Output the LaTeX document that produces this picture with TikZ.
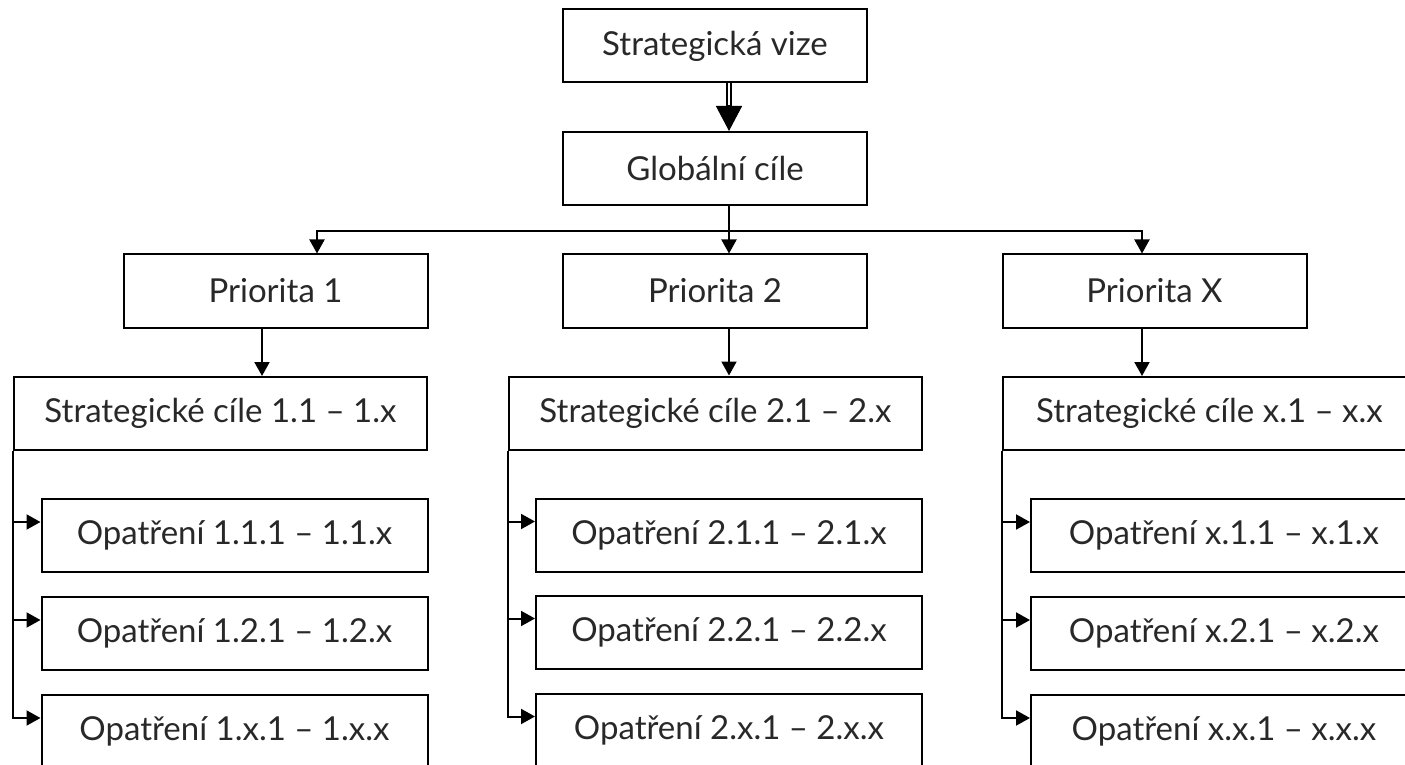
\documentclass[tikz,border=0pt]{standalone}
\usepackage{fontspec}
\setmainfont{Lato}
\usetikzlibrary{arrows.meta,calc}
\definecolor{txt}{RGB}{40,40,40}
\begin{document}
\begin{tikzpicture}[x=0.5pt,y=-0.5pt,
  box/.style={draw, line width=1pt, inner sep=0pt, text=txt,
    font=\fontsize{16.5}{19}\selectfont, minimum height=36.5pt},
  wbox/.style={box, minimum width=152pt},
  sbox/.style={box, minimum width=206.5pt},
  obox/.style={box, minimum width=193pt},
  conn/.style={line width=1pt, -{Triangle[length=7pt,width=7.5pt]}},
  plain/.style={line width=1pt}]
\useasboundingbox (0,0) rectangle (1405,765);
\clip (0,0) rectangle (1405,765);
% x positions of connectors
\coordinate (xa) at (729,0);
\coordinate (x317) at (317,0);
\coordinate (x262) at (262,0);
\coordinate (x1142) at (1142,0);
\coordinate (hb) at (729,231);
% nodes
\node[wbox] (vize) at (715,46) {Strategická vize};
\node[wbox] (glob) at (715,168.5) {Globální cíle};
\node[wbox] (p1) at (275.5,291) {Priorita 1};
\node[wbox] (p2) at (715,291) {Priorita 2};
\node[wbox] (pX) at (1154.5,291) {Priorita X};
\node[sbox] (s1) at (220.5,413.5) {Strategické cíle 1.1 – 1.x};
\node[sbox] (s2) at (715.5,413) {Strategické cíle 2.1 – 2.x};
\node[sbox] (sX) at (1209.5,413.5) {Strategické cíle x.1 – x.x};
\node[obox] (o11) at (234.5,535.5) {Opatření 1.1.1 – 1.1.x};
\node[obox] (o12) at (234.5,633.5) {Opatření 1.2.1 – 1.2.x};
\node[obox] (o1x) at (234.5,731.5) {Opatření 1.x.1 – 1.x.x};
\node[obox] (o21) at (729,535) {Opatření 2.1.1 – 2.1.x};
\node[obox] (o22) at (729,632) {Opatření 2.2.1 – 2.2.x};
\node[obox] (o2x) at (729,730) {Opatření 2.x.1 – 2.x.x};
\node[obox] (oX1) at (1224,535.5) {Opatření x.1.1 – x.1.x};
\node[obox] (oX2) at (1224,633.5) {Opatření x.2.1 – x.2.x};
\node[obox] (oXx) at (1224,731.5) {Opatření x.x.1 – x.x.x};
% double arrow
\draw[line width=0.7pt, double distance=1.3pt] (vize.south -| xa) -- ($(glob.north -| xa)+(0,-24)$);
\draw[line width=0.7pt, -{Triangle[length=12.5pt,width=13pt]}] ($(glob.north -| xa)+(0,-26)$) -- (glob.north -| xa);
% distribution to priorities
\draw[conn] (glob.south -| xa) -- (p2.north -| xa);
\draw[conn] (hb) -| (p1.north -| x317);
\draw[conn] (hb) -| (pX.north -| x1142);
% priorities to strategic goals
\draw[conn] (p1.south -| x262) -- (s1.north -| x262);
\draw[conn] (p2.south -| xa) -- (s2.north -| xa);
\draw[conn] (pX.south -| x1142) -- (sX.north -| x1142);
% measures
\foreach \s/\a/\b/\c in {s1/o11/o12/o1x, s2/o21/o22/o2x, sX/oX1/oX2/oXx}{
  \draw[plain] (\s.south west) -- ($(\c.north west -| \s.south west)+(0,24)$);
  \draw[conn] (\s.south west) |- ($(\a.north west)+(0,24)$);
  \draw[conn] (\s.south west) |- ($(\b.north west)+(0,24)$);
  \draw[conn] (\s.south west) |- ($(\c.north west)+(0,24)$);
}
\end{tikzpicture}
\end{document}
